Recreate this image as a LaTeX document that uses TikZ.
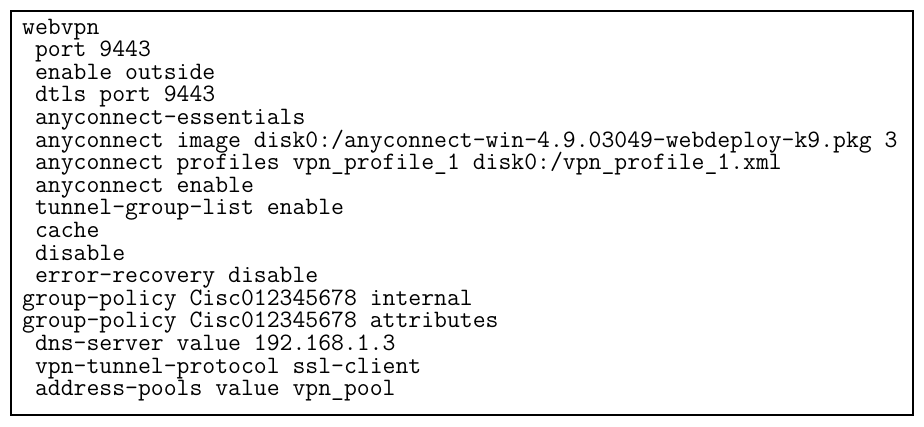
\documentclass[tikz,border=0pt]{standalone}
\tikzset{cfgline/.style={anchor=base west, inner sep=0pt, font=\ttfamily\fontsize{25}{25}\selectfont}}
\begin{document}
\begin{tikzpicture}[x=1pt,y=1pt]
	\useasboundingbox (0,0) rectangle (924,-426);
	\draw[line width=2.5pt] (11,-11) rectangle (913,-415);
	% configuration listing, one node per line
	\foreach \txt [count=\i from 0] in {
		webvpn,
		\ port 9443,
		\ enable outside,
		\ dtls port 9443,
		\ anyconnect-essentials,
		\ anyconnect image disk0:/anyconnect-win-4.9.03049-webdeploy-k9.pkg 3,
		\ anyconnect profiles vpn\_profile\_1 disk0:/vpn\_profile\_1.xml,
		\ anyconnect enable,
		\ tunnel-group-list enable,
		\ cache,
		\ disable,
		\ error-recovery disable,
		group-policy Cisc012345678 internal,
		group-policy Cisc012345678 attributes,
		\ dns-server value 192.168.1.3,
		\ vpn-tunnel-protocol ssl-client,
		\ address-pools value vpn\_pool}
		\node[cfgline] (l\i) at (22,-34-22.6*\i) {\txt};
\end{tikzpicture}
\end{document}
